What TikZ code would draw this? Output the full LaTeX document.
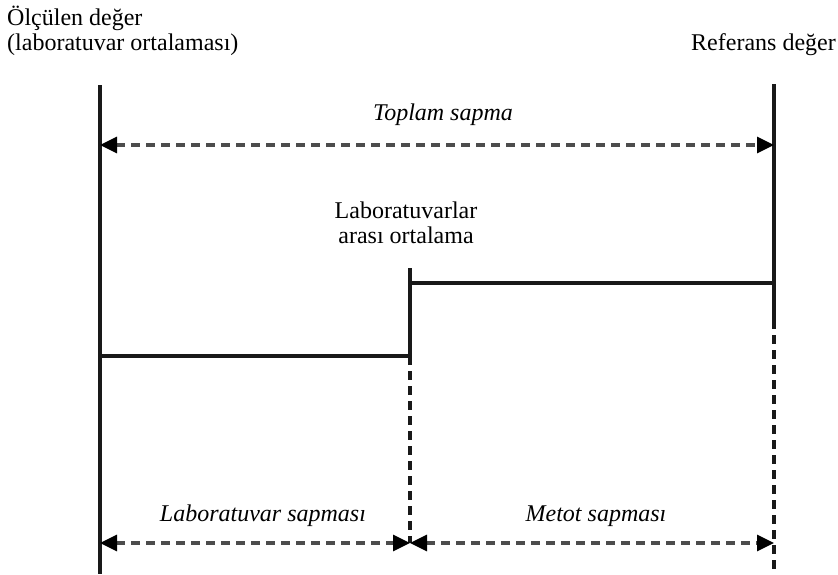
\documentclass[tikz,border=0pt]{standalone}
\usepackage{fontspec}
\setmainfont{Liberation Serif}
\usetikzlibrary{arrows.meta}
\begin{document}
\begin{tikzpicture}[x=1pt,y=-1pt,
  lbl/.style={font=\fontsize{24}{25}\selectfont, inner sep=0pt},
  itlbl/.style={font=\fontsize{24}{25}\selectfont\itshape, inner sep=0pt},
  solidline/.style={line width=3.2pt, draw=black!90},
  dashline/.style={line width=3.2pt, draw=black!90, dash pattern=on 9pt off 6pt},
  dimarrow/.style={line width=3.2pt, draw=black!70, dash pattern=on 9pt off 6pt,
     {Triangle[length=17pt,width=16pt,color=black]}-{Triangle[length=17pt,width=16pt,color=black]}}
]
\useasboundingbox (0,0) rectangle (838,574);
% coordinates
\coordinate (Ltop) at (100,85);
\coordinate (Lbot) at (100,574);
\coordinate (Rtop) at (774,84);
\coordinate (Rsol) at (774,320);
\coordinate (Rbot) at (774,574);
\coordinate (Mtop) at (410,268);
\coordinate (Mlow) at (410,356);
\coordinate (Mbot) at (410,543);
\coordinate (Lmid) at (100,356);
\coordinate (Rmid) at (774,283);
\coordinate (Mmid) at (410,283);
\coordinate (TA1) at (100,145);
\coordinate (TA2) at (774,145);
\coordinate (BA1) at (100,543);
\coordinate (BA2) at (410,543);
\coordinate (BA3) at (774,543);
% texts
\node[lbl, anchor=base west, align=left] (olc) at (7,50) {Ölçülen değer\\(laboratuvar ortalaması)};
\node[lbl, anchor=base east] (ref) at (836,50) {Referans değer};
\node[itlbl, anchor=base] (top) at (443,120) {Toplam sapma};
\node[lbl, anchor=base, align=center] (lab) at (406,243) {Laboratuvarlar\\arası ortalama};
\node[itlbl, anchor=base] (ls) at (263,521) {Laboratuvar sapması};
\node[itlbl, anchor=base] (ms) at (596,521) {Metot sapması};
% lines
\draw[solidline] (Ltop) -- (Lbot);
\draw[solidline] (Rtop) -- (Rsol);
\draw[dashline] (Rsol) -- (Rbot);
\draw[solidline] (Lmid) -- (Mlow) -- (Mtop);
\draw[solidline] (Mmid) -- (Rmid);
\draw[dashline] (Mlow) -- (Mbot);
% arrows
\draw[dimarrow] (TA1) -- (TA2);
\draw[dimarrow] (BA1) -- (BA2);
\draw[dimarrow] (BA2) -- (BA3);
\end{tikzpicture}
\end{document}
